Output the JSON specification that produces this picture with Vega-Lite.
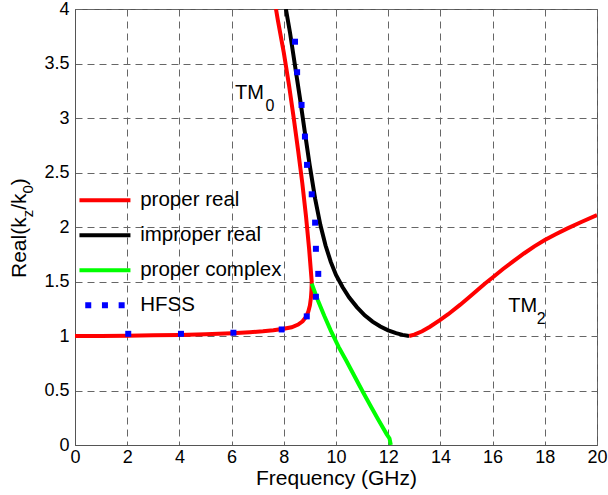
{
  "$schema": "https://vega.github.io/schema/vega-lite/v6.json",
  "width": 522,
  "height": 436,
  "autosize": {"type": "none"},
  "padding": {"left": 75, "top": 9, "right": 11, "bottom": 50},
  "background": "white",
  "config": {
    "font": "Liberation Sans",
    "view": {"stroke": "#555555", "strokeWidth": 1},
    "axis": {
      "labelFont": "Liberation Sans",
      "labelFontSize": 18,
      "labelColor": "black",
      "labelFlush": false,
      "titleFont": "Liberation Sans",
      "titleFontSize": 21,
      "titleFontWeight": "normal",
      "titleColor": "black",
      "gridColor": "#666666",
      "gridDash": [7, 5],
      "gridWidth": 1,
      "gridOpacity": 1,
      "domainColor": "#555555",
      "ticks": false
    }
  },
  "datasets": {
    "curves": [
      {"series": "proper real", "branch": "tm0", "f": 0, "k": 1.0},
      {"series": "proper real", "branch": "tm0", "f": 1, "k": 1.0},
      {"series": "proper real", "branch": "tm0", "f": 2, "k": 1.003},
      {"series": "proper real", "branch": "tm0", "f": 3, "k": 1.006},
      {"series": "proper real", "branch": "tm0", "f": 4, "k": 1.01},
      {"series": "proper real", "branch": "tm0", "f": 5, "k": 1.016},
      {"series": "proper real", "branch": "tm0", "f": 6, "k": 1.025},
      {"series": "proper real", "branch": "tm0", "f": 6.7, "k": 1.034},
      {"series": "proper real", "branch": "tm0", "f": 7.2, "k": 1.043},
      {"series": "proper real", "branch": "tm0", "f": 7.6, "k": 1.053},
      {"series": "proper real", "branch": "tm0", "f": 8.0, "k": 1.066},
      {"series": "proper real", "branch": "tm0", "f": 8.3, "k": 1.08},
      {"series": "proper real", "branch": "tm0", "f": 8.55, "k": 1.105},
      {"series": "proper real", "branch": "tm0", "f": 8.72, "k": 1.135},
      {"series": "proper real", "branch": "tm0", "f": 8.85, "k": 1.175},
      {"series": "proper real", "branch": "tm0", "f": 8.94, "k": 1.225},
      {"series": "proper real", "branch": "tm0", "f": 9.0, "k": 1.28},
      {"series": "proper real", "branch": "tm0", "f": 9.04, "k": 1.35},
      {"series": "proper real", "branch": "tm0", "f": 9.06, "k": 1.42},
      {"series": "proper real", "branch": "tm0", "f": 9.07, "k": 1.5},
      {"series": "proper real", "branch": "tm0", "f": 8.97, "k": 1.8},
      {"series": "proper real", "branch": "tm0", "f": 8.85, "k": 2.1},
      {"series": "proper real", "branch": "tm0", "f": 8.71, "k": 2.4},
      {"series": "proper real", "branch": "tm0", "f": 8.55, "k": 2.7},
      {"series": "proper real", "branch": "tm0", "f": 8.38, "k": 3.0},
      {"series": "proper real", "branch": "tm0", "f": 8.2, "k": 3.3},
      {"series": "proper real", "branch": "tm0", "f": 8.0, "k": 3.6},
      {"series": "proper real", "branch": "tm0", "f": 7.77, "k": 3.9},
      {"series": "proper real", "branch": "tm0", "f": 7.7, "k": 4.0},
      {"series": "improper real", "branch": "imp", "f": 8.08, "k": 4.0},
      {"series": "improper real", "branch": "imp", "f": 8.24, "k": 3.78},
      {"series": "improper real", "branch": "imp", "f": 8.43, "k": 3.48},
      {"series": "improper real", "branch": "imp", "f": 8.62, "k": 3.18},
      {"series": "improper real", "branch": "imp", "f": 8.8, "k": 2.88},
      {"series": "improper real", "branch": "imp", "f": 8.99, "k": 2.57},
      {"series": "improper real", "branch": "imp", "f": 9.2, "k": 2.26},
      {"series": "improper real", "branch": "imp", "f": 9.4, "k": 2.02},
      {"series": "improper real", "branch": "imp", "f": 9.6, "k": 1.83},
      {"series": "improper real", "branch": "imp", "f": 9.8, "k": 1.68},
      {"series": "improper real", "branch": "imp", "f": 10.0, "k": 1.56},
      {"series": "improper real", "branch": "imp", "f": 10.25, "k": 1.45},
      {"series": "improper real", "branch": "imp", "f": 10.5, "k": 1.355},
      {"series": "improper real", "branch": "imp", "f": 10.8, "k": 1.265},
      {"series": "improper real", "branch": "imp", "f": 11.1, "k": 1.19},
      {"series": "improper real", "branch": "imp", "f": 11.4, "k": 1.132},
      {"series": "improper real", "branch": "imp", "f": 11.7, "k": 1.087},
      {"series": "improper real", "branch": "imp", "f": 12.0, "k": 1.052},
      {"series": "improper real", "branch": "imp", "f": 12.3, "k": 1.026},
      {"series": "improper real", "branch": "imp", "f": 12.55, "k": 1.01},
      {"series": "improper real", "branch": "imp", "f": 12.8, "k": 1.0},
      {"series": "proper real", "branch": "tm2", "f": 12.8, "k": 1.0},
      {"series": "proper real", "branch": "tm2", "f": 13.0, "k": 1.012},
      {"series": "proper real", "branch": "tm2", "f": 13.3, "k": 1.043},
      {"series": "proper real", "branch": "tm2", "f": 13.6, "k": 1.085},
      {"series": "proper real", "branch": "tm2", "f": 13.98, "k": 1.145},
      {"series": "proper real", "branch": "tm2", "f": 14.3, "k": 1.2},
      {"series": "proper real", "branch": "tm2", "f": 14.75, "k": 1.285},
      {"series": "proper real", "branch": "tm2", "f": 15.1, "k": 1.355},
      {"series": "proper real", "branch": "tm2", "f": 15.4, "k": 1.417},
      {"series": "proper real", "branch": "tm2", "f": 15.7, "k": 1.48},
      {"series": "proper real", "branch": "tm2", "f": 16.0, "k": 1.537},
      {"series": "proper real", "branch": "tm2", "f": 16.4, "k": 1.615},
      {"series": "proper real", "branch": "tm2", "f": 16.8, "k": 1.687},
      {"series": "proper real", "branch": "tm2", "f": 17.2, "k": 1.757},
      {"series": "proper real", "branch": "tm2", "f": 17.6, "k": 1.822},
      {"series": "proper real", "branch": "tm2", "f": 18.0, "k": 1.88},
      {"series": "proper real", "branch": "tm2", "f": 18.4, "k": 1.932},
      {"series": "proper real", "branch": "tm2", "f": 18.85, "k": 1.985},
      {"series": "proper real", "branch": "tm2", "f": 19.4, "k": 2.046},
      {"series": "proper real", "branch": "tm2", "f": 20, "k": 2.11},
      {"series": "proper complex", "branch": "cplx", "f": 9.07, "k": 1.48},
      {"series": "proper complex", "branch": "cplx", "f": 9.3, "k": 1.33},
      {"series": "proper complex", "branch": "cplx", "f": 9.55, "k": 1.185},
      {"series": "proper complex", "branch": "cplx", "f": 9.8, "k": 1.05},
      {"series": "proper complex", "branch": "cplx", "f": 10.1, "k": 0.9},
      {"series": "proper complex", "branch": "cplx", "f": 10.4, "k": 0.77},
      {"series": "proper complex", "branch": "cplx", "f": 10.7, "k": 0.635},
      {"series": "proper complex", "branch": "cplx", "f": 11.0, "k": 0.5},
      {"series": "proper complex", "branch": "cplx", "f": 11.3, "k": 0.37},
      {"series": "proper complex", "branch": "cplx", "f": 11.6, "k": 0.24},
      {"series": "proper complex", "branch": "cplx", "f": 11.94, "k": 0.1},
      {"series": "proper complex", "branch": "cplx", "f": 12.05, "k": 0.06},
      {"series": "proper complex", "branch": "cplx", "f": 12.1, "k": 0.0}
    ],
    "hfss": [
      {"f": 2.04, "k": 1.02},
      {"f": 4.06, "k": 1.02},
      {"f": 6.07, "k": 1.03},
      {"f": 7.92, "k": 1.06},
      {"f": 8.88, "k": 1.18},
      {"f": 9.23, "k": 1.36},
      {"f": 9.32, "k": 1.57},
      {"f": 9.23, "k": 1.8},
      {"f": 9.2, "k": 2.04},
      {"f": 9.07, "k": 2.3},
      {"f": 8.89, "k": 2.57},
      {"f": 8.81, "k": 2.83},
      {"f": 8.68, "k": 3.12},
      {"f": 8.51, "k": 3.42},
      {"f": 8.43, "k": 3.7}
    ]
  },
  "layer": [
    {
      "data": {"name": "curves"},
      "mark": {"type": "line", "strokeWidth": 4, "clip": true},
      "encoding": {
        "x": {
          "field": "f", "type": "quantitative",
          "scale": {"domain": [0, 20], "nice": false},
          "axis": {"values": [0, 2, 4, 6, 8, 10, 12, 14, 16, 18, 20], "format": "~g", "title": "Frequency (GHz)", "labelPadding": 3, "titlePadding": 1}
        },
        "y": {
          "field": "k", "type": "quantitative",
          "scale": {"domain": [0, 4], "nice": false},
          "axis": {"values": [0, 0.5, 1, 1.5, 2, 2.5, 3, 3.5, 4], "format": "~g", "title": null, "labelPadding": 6}
        },
        "color": {
          "field": "series", "type": "nominal",
          "scale": {"domain": ["proper real", "improper real", "proper complex", "HFSS"], "range": ["#ff0000", "#000000", "#00ff00", "#0000ff"]},
          "legend": {
            "title": null,
            "orient": "none",
            "legendX": 19.7,
            "legendY": 181,
            "padding": 0,
            "symbolSize": 400,
            "symbolStrokeWidth": 4,
            "labelFont": "Liberation Sans",
            "labelFontSize": 20.5,
            "labelColor": "black",
            "labelOffset": 25,
            "rowPadding": 14,
            "encode": {
              "symbols": {
                "update": {
                  "shape": {"signal": "datum.value === 'HFSS' ? 'M-1.97,-0.3H-1.37V0.3H-1.97Z M-0.3,-0.3H0.3V0.3H-0.3Z M1.37,-0.3H1.97V0.3H1.37Z' : 'M-2.55,0H2.55'"},
                  "fill": {"signal": "datum.value === 'HFSS' ? '#0000ff' : 'transparent'"},
                  "strokeWidth": {"signal": "datum.value === 'HFSS' ? 0 : 4"},
                  "opacity": {"value": 1}
                }
              }
            }
          }
        },
        "detail": {"field": "branch"},
        "order": {"value": null}
      }
    },
    {
      "data": {"name": "hfss"},
      "mark": {"type": "point", "shape": "square", "filled": true, "size": 36, "opacity": 1, "color": "#0000ff"},
      "encoding": {
        "x": {"field": "f", "type": "quantitative"},
        "y": {"field": "k", "type": "quantitative"}
      }
    },
    {
      "data": {"values": [{}]},
      "mark": {"type": "text", "align": "left", "baseline": "alphabetic", "fontSize": 20, "font": "Liberation Sans", "color": "black"},
      "encoding": {"x": {"datum": 6.13, "type": "quantitative"}, "y": {"datum": 3.17, "type": "quantitative"}, "text": {"value": "TM"}}
    },
    {
      "data": {"values": [{}]},
      "mark": {"type": "text", "align": "left", "baseline": "alphabetic", "fontSize": 16, "font": "Liberation Sans", "color": "black", "dx": 30.5, "dy": 12},
      "encoding": {"x": {"datum": 6.13, "type": "quantitative"}, "y": {"datum": 3.17, "type": "quantitative"}, "text": {"value": "0"}}
    },
    {
      "data": {"values": [{}]},
      "mark": {"type": "text", "align": "left", "baseline": "alphabetic", "fontSize": 20, "font": "Liberation Sans", "color": "black"},
      "encoding": {"x": {"datum": 16.6, "type": "quantitative"}, "y": {"datum": 1.223, "type": "quantitative"}, "text": {"value": "TM"}}
    },
    {
      "data": {"values": [{}]},
      "mark": {"type": "text", "align": "left", "baseline": "alphabetic", "fontSize": 16, "font": "Liberation Sans", "color": "black", "dx": 28.5, "dy": 12},
      "encoding": {"x": {"datum": 16.6, "type": "quantitative"}, "y": {"datum": 1.223, "type": "quantitative"}, "text": {"value": "2"}}
    },
    {
      "data": {"values": [{}]},
      "mark": {"type": "text", "align": "left", "baseline": "alphabetic", "angle": 270, "fontSize": 21, "font": "Liberation Sans", "color": "black"},
      "encoding": {"x": {"datum": -1.877, "type": "quantitative"}, "y": {"datum": 1.532, "type": "quantitative"}, "text": {"value": "Real(k"}}
    },
    {
      "data": {"values": [{}]},
      "mark": {"type": "text", "align": "left", "baseline": "alphabetic", "angle": 270, "fontSize": 15, "font": "Liberation Sans", "color": "black", "dx": 60.7, "dy": 7},
      "encoding": {"x": {"datum": -1.877, "type": "quantitative"}, "y": {"datum": 1.532, "type": "quantitative"}, "text": {"value": "z"}}
    },
    {
      "data": {"values": [{}]},
      "mark": {"type": "text", "align": "left", "baseline": "alphabetic", "angle": 270, "fontSize": 21, "font": "Liberation Sans", "color": "black", "dx": 68.2},
      "encoding": {"x": {"datum": -1.877, "type": "quantitative"}, "y": {"datum": 1.532, "type": "quantitative"}, "text": {"value": "/k"}}
    },
    {
      "data": {"values": [{}]},
      "mark": {"type": "text", "align": "left", "baseline": "alphabetic", "angle": 270, "fontSize": 15, "font": "Liberation Sans", "color": "black", "dx": 84.5, "dy": 7},
      "encoding": {"x": {"datum": -1.877, "type": "quantitative"}, "y": {"datum": 1.532, "type": "quantitative"}, "text": {"value": "0"}}
    },
    {
      "data": {"values": [{}]},
      "mark": {"type": "text", "align": "left", "baseline": "alphabetic", "angle": 270, "fontSize": 21, "font": "Liberation Sans", "color": "black", "dx": 92.8},
      "encoding": {"x": {"datum": -1.877, "type": "quantitative"}, "y": {"datum": 1.532, "type": "quantitative"}, "text": {"value": ")"}}
    }
  ]
}
